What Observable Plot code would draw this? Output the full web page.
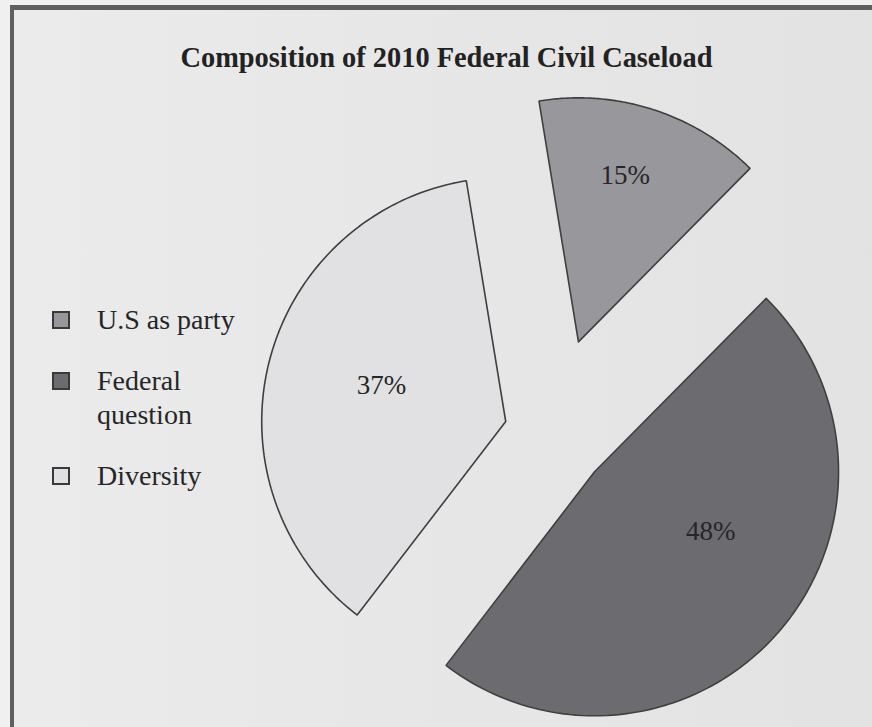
<!DOCTYPE html>
<html>
<head>
<meta charset="utf-8">
<script src="https://cdn.jsdelivr.net/npm/d3@7"></script>
<script src="https://cdn.jsdelivr.net/npm/@observablehq/plot@0.6"></script>
<style>
html, body { margin: 0; padding: 0; width: 872px; height: 727px; overflow: hidden; background: #f0f0f0; font-family: "Liberation Serif", "DejaVu Serif", serif; }
#frame { position: absolute; left: 10px; top: 5px; width: 900px; height: 800px; border-left: 4px solid #5f5f5f; border-top: 5px solid #5f5f5f; background: linear-gradient(to right, #ebebeb, #e2e2e2); }
#chart { position: absolute; left: 0; top: 0; }
#legend { position: absolute; left: 52px; top: 303px; color: #262626; font-size: 28px; line-height: 34px; }
.item { display: flex; align-items: flex-start; margin-bottom: 27px; }
.sw { width: 14px; height: 14px; border: 2px solid #3a3a3a; margin-top: 8px; margin-right: 27px; flex: none; }
</style>
</head>
<body>
<div id="frame"></div>
<div id="chart"></div>
<div id="legend"></div>
<script>
// ---- data ----
const title = "Composition of 2010 Federal Civil Caseload";
const categories = ["U.S as party", "Federal question", "Diversity"];
const legendLines = [["U.S as party"], ["Federal", "question"], ["Diversity"]];
const shares = [15, 48, 37];
const shareLabels = ["15%", "48%", "37%"];
const colors = ["#98979c", "#6c6b70", "#e1e1e3"];

// ---- layout ----
const W = 872, H = 727;
const layout = {
  centerPx: [549, 432],
  radiusPx: 244,
  startDeg: -9.3,
  explode: [0.39, 0.245, 0.185],          // in radius units, along slice mid-angle
  labelPolar: [[15.7, 0.71], [117, 0.535], [286, 0.53]] // angle (deg), radius fraction from slice apex
};
const rad = d => d * Math.PI / 180;
const xDomain = [(0 - layout.centerPx[0]) / layout.radiusPx, (W - layout.centerPx[0]) / layout.radiusPx];
const yDomain = [(layout.centerPx[1] - H) / layout.radiusPx, layout.centerPx[1] / layout.radiusPx];

const arcs = d3.pie().sort(null)
  .startAngle(rad(layout.startDeg))
  .endAngle(rad(layout.startDeg) + 2 * Math.PI)(shares);

const outline = [];
const labelRows = [];
arcs.forEach((a, i) => {
  const mid = (a.startAngle + a.endAngle) / 2;
  const ex = layout.explode[i] * Math.sin(mid);
  const ey = layout.explode[i] * Math.cos(mid);
  outline.push({cat: categories[i], x: ex, y: ey});
  const n = 120;
  for (let k = 0; k <= n; k++) {
    const t = a.startAngle + (a.endAngle - a.startAngle) * k / n;
    outline.push({cat: categories[i], x: ex + Math.sin(t), y: ey + Math.cos(t)});
  }
  outline.push({cat: categories[i], x: ex, y: ey});
  const [ld, lr] = layout.labelPolar[i];
  labelRows.push({text: shareLabels[i], x: ex + lr * Math.sin(rad(ld)), y: ey + lr * Math.cos(rad(ld))});
});

const chart = Plot.plot({
  width: W,
  height: H,
  margin: 0,
  x: {domain: xDomain, axis: null},
  y: {domain: yDomain, axis: null},
  color: {domain: categories, range: colors},
  style: {background: "transparent", fontFamily: "'Liberation Serif', serif", overflow: "visible"},
  marks: [
    Plot.line(outline, {x: "x", y: "y", z: "cat", fill: "cat", stroke: "#3f3f3f", strokeWidth: 1.6, curve: "linear", strokeLinejoin: "miter"}),
    Plot.text(labelRows, {x: "x", y: "y", text: "text", fontSize: 27, fill: "#262626"}),
    Plot.text([title], {frameAnchor: "top", dx: 10, dy: 46, fontSize: 29, fontWeight: "bold", fill: "#222"})
  ]
});
document.getElementById("chart").appendChild(chart);
d3.select(chart).selectAll("text").filter(function () { return this.textContent === title; })
  .attr("textLength", 532).attr("lengthAdjust", "spacingAndGlyphs");

// legend
const leg = d3.select("#legend");
categories.forEach((c, i) => {
  const it = leg.append("div").attr("class", "item");
  it.append("div").attr("class", "sw").style("background", colors[i]);
  const t = it.append("div");
  legendLines[i].forEach(l => t.append("div").text(l));
});
</script>
</body>
</html>
